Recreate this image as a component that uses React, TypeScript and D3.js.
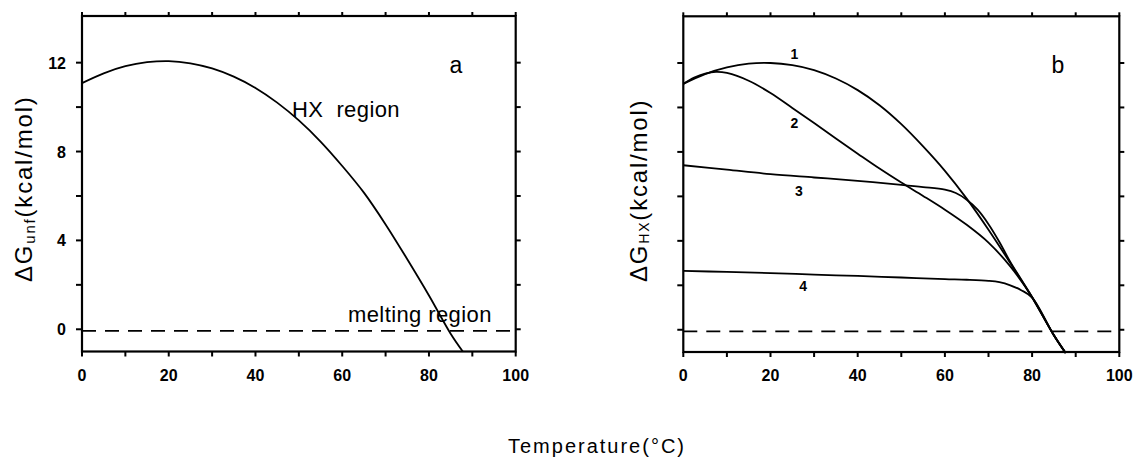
import React from "react";
import * as d3 from "d3";

// ---- data ----
const tempA = [0, 5, 10, 15, 20, 25, 30, 35, 40, 45, 50, 55, 60, 65, 70, 75, 80, 85, 87.8];
const dGunf = [11.08, 11.52, 11.84, 12.02, 12.07, 11.97, 11.74, 11.37, 10.86, 10.2, 9.4, 8.45, 7.35, 6.15, 4.72, 3.15, 1.52, -0.2, -1.0];

const tempB1 = [0, 5, 10, 15, 20, 25, 30, 35, 40, 45, 50, 55, 60, 65, 70, 75, 80, 85, 87.7];
const dGhx1 = [11.06, 11.5, 11.8, 11.97, 12.0, 11.9, 11.68, 11.3, 10.78, 10.1, 9.25, 8.25, 7.15, 5.9, 4.5, 3.0, 1.45, -0.25, -1.05];

const tempB2 = [0, 2.5, 5, 7.5, 10, 15, 20, 25, 30, 35, 40, 45, 50, 55, 60, 65, 70, 75, 80, 85, 87.7];
const dGhx2 = [11.06, 11.34, 11.52, 11.6, 11.55, 11.2, 10.65, 9.98, 9.3, 8.6, 7.92, 7.25, 6.62, 6.02, 5.4, 4.72, 3.92, 2.85, 1.47, -0.25, -1.05];

const tempB3 = [0, 10, 20, 30, 40, 50, 55, 60, 62.5, 65, 67.5, 70, 72.5, 75, 80, 85, 87.7];
const dGhx3 = [7.4, 7.2, 7.0, 6.85, 6.7, 6.52, 6.42, 6.3, 6.15, 5.85, 5.4, 4.75, 3.95, 3.05, 1.47, -0.25, -1.05];

const tempB4 = [0, 10, 20, 30, 40, 50, 60, 65, 70, 72.5, 75, 77.5, 80, 85, 87.7];
const dGhx4 = [2.65, 2.6, 2.55, 2.48, 2.42, 2.35, 2.28, 2.25, 2.2, 2.14, 2.0, 1.78, 1.45, -0.25, -1.05];

const curveLabelsB = ["1", "2", "3", "4"];
const curveLabelPosB = [
  [25.5, 12.4],
  [25.5, 9.3],
  [26.5, 6.25],
  [27.5, 1.95],
];

const meltingLevel = -0.07;

const xMajor = [0, 20, 40, 60, 80, 100];
const xMinor = [10, 30, 50, 70, 90];
const yAllTicks = [0, 2, 4, 6, 8, 10, 12];
const yLabelTicks = [0, 4, 8, 12];

const FONT = "'Liberation Sans', Arial, Helvetica, sans-serif";

type PanelProps = {
  x: d3.ScaleLinear<number, number>;
  y: d3.ScaleLinear<number, number>;
  showYLabels: boolean;
};

function Frame({ x, y, showYLabels }: PanelProps) {
  const [x0, x1] = x.range();
  const [yb, yt] = y.range();
  const sw = 2.2;
  const xt = [...xMajor, ...xMinor];
  return (
    <g>
      <rect x={x0} y={yt} width={x1 - x0} height={yb - yt} fill="none" stroke="#000" strokeWidth={sw} />
      {xt.map((t) => (
        <g key={"xt" + t}>
          <line x1={x(t)} x2={x(t)} y1={yb} y2={yb + 5} stroke="#000" strokeWidth={2} />
          <line x1={x(t)} x2={x(t)} y1={yt} y2={yt - 4} stroke="#000" strokeWidth={2} />
        </g>
      ))}
      {xMajor.map((t) => (
        <text key={"xl" + t} x={x(t)} y={yb + 29} textAnchor="middle" fontFamily={FONT} fontWeight="bold" fontSize={16} fill="#000">
          {t}
        </text>
      ))}
      {yAllTicks.map((t) => (
        <g key={"yt" + t}>
          <line x1={x0 - 6} x2={x0} y1={y(t)} y2={y(t)} stroke="#000" strokeWidth={2} />
          <line x1={x1} x2={x1 + 5} y1={y(t)} y2={y(t)} stroke="#000" strokeWidth={2} />
        </g>
      ))}
      {showYLabels &&
        yLabelTicks.map((t) => (
          <text key={"yl" + t} x={x0 - 16} y={y(t) + 6} textAnchor="end" fontFamily={FONT} fontWeight="bold" fontSize={16} fill="#000">
            {t}
          </text>
        ))}
      <line x1={x0} x2={x1} y1={y(meltingLevel)} y2={y(meltingLevel)} stroke="#000" strokeWidth={1.8} strokeDasharray="14 9" />
    </g>
  );
}

function pathOf(
  xs: number[],
  ys: number[],
  x: d3.ScaleLinear<number, number>,
  y: d3.ScaleLinear<number, number>
) {
  const gen = d3
    .line<number>()
    .x((_, i) => x(xs[i]))
    .y((d) => y(d))
    .curve(d3.curveCatmullRom.alpha(0.5));
  return gen(ys) || "";
}

export default function App() {
  const xA = d3.scaleLinear().domain([0, 100]).range([82, 515.7]);
  const yA = d3.scaleLinear().domain([-1, 14.1]).range([351.5, 16]);
  const xB = d3.scaleLinear().domain([0, 100]).range([683.3, 1119.3]);
  const yB = d3.scaleLinear().domain([-1, 14.1]).range([352, 16.3]);

  const seriesB = [
    [tempB1, dGhx1],
    [tempB2, dGhx2],
    [tempB3, dGhx3],
    [tempB4, dGhx4],
  ];

  return (
    <svg
      width={1136}
      height={459}
      viewBox="0 0 1136 459"
      style={{ position: "absolute", left: 0, top: 0, background: "#fff" }}
    >
      <rect x={0} y={0} width={1136} height={459} fill="#fff" />
      {/* Panel a */}
      <Frame x={xA} y={yA} showYLabels={true} />
      <path d={pathOf(tempA, dGunf, xA, yA)} fill="none" stroke="#000" strokeWidth={1.8} />
      <text x={292} y={117} fontFamily={FONT} fontSize={22} letterSpacing={0.4} fill="#000" style={{ whiteSpace: "pre" }}>
        {"HX  region"}
      </text>
      <text x={348} y={322} fontFamily={FONT} fontSize={22} letterSpacing={0.4} fill="#000">
        melting region
      </text>
      <text x={456} y={73} textAnchor="middle" fontFamily={FONT} fontSize={23} fill="#000">
        a
      </text>
      <text transform="translate(32,282) rotate(-90)" fontFamily={FONT} fontSize={24} letterSpacing={1.8} fill="#000">
        <tspan>ΔG</tspan>
        <tspan fontSize={15} dy={3}>unf</tspan>
        <tspan dy={-3}>(kcal/mol)</tspan>
      </text>

      {/* Panel b */}
      <Frame x={xB} y={yB} showYLabels={false} />
      {seriesB.map(([xs, ys], i) => (
        <path key={"b" + i} d={pathOf(xs, ys, xB, yB)} fill="none" stroke="#000" strokeWidth={1.8} />
      ))}
      {curveLabelsB.map((lab, i) => (
        <text
          key={"lab" + i}
          x={xB(curveLabelPosB[i][0])}
          y={yB(curveLabelPosB[i][1]) + 5}
          textAnchor="middle"
          fontFamily={FONT}
          fontWeight="bold"
          fontSize={14}
          fill="#000"
        >
          {lab}
        </text>
      ))}
      <text x={1058} y={73} textAnchor="middle" fontFamily={FONT} fontSize={23} fill="#000">
        b
      </text>
      <text transform="translate(647,282) rotate(-90)" fontFamily={FONT} fontSize={24} letterSpacing={1.8} fill="#000">
        <tspan>ΔG</tspan>
        <tspan fontSize={14} dy={2}>HX</tspan>
        <tspan dy={-2}>(kcal/mol)</tspan>
      </text>

      {/* shared x title */}
      <text x={597} y={453} textAnchor="middle" fontFamily={FONT} fontSize={20} letterSpacing={2} fill="#000">
        Temperature(°C)
      </text>
    </svg>
  );
}
